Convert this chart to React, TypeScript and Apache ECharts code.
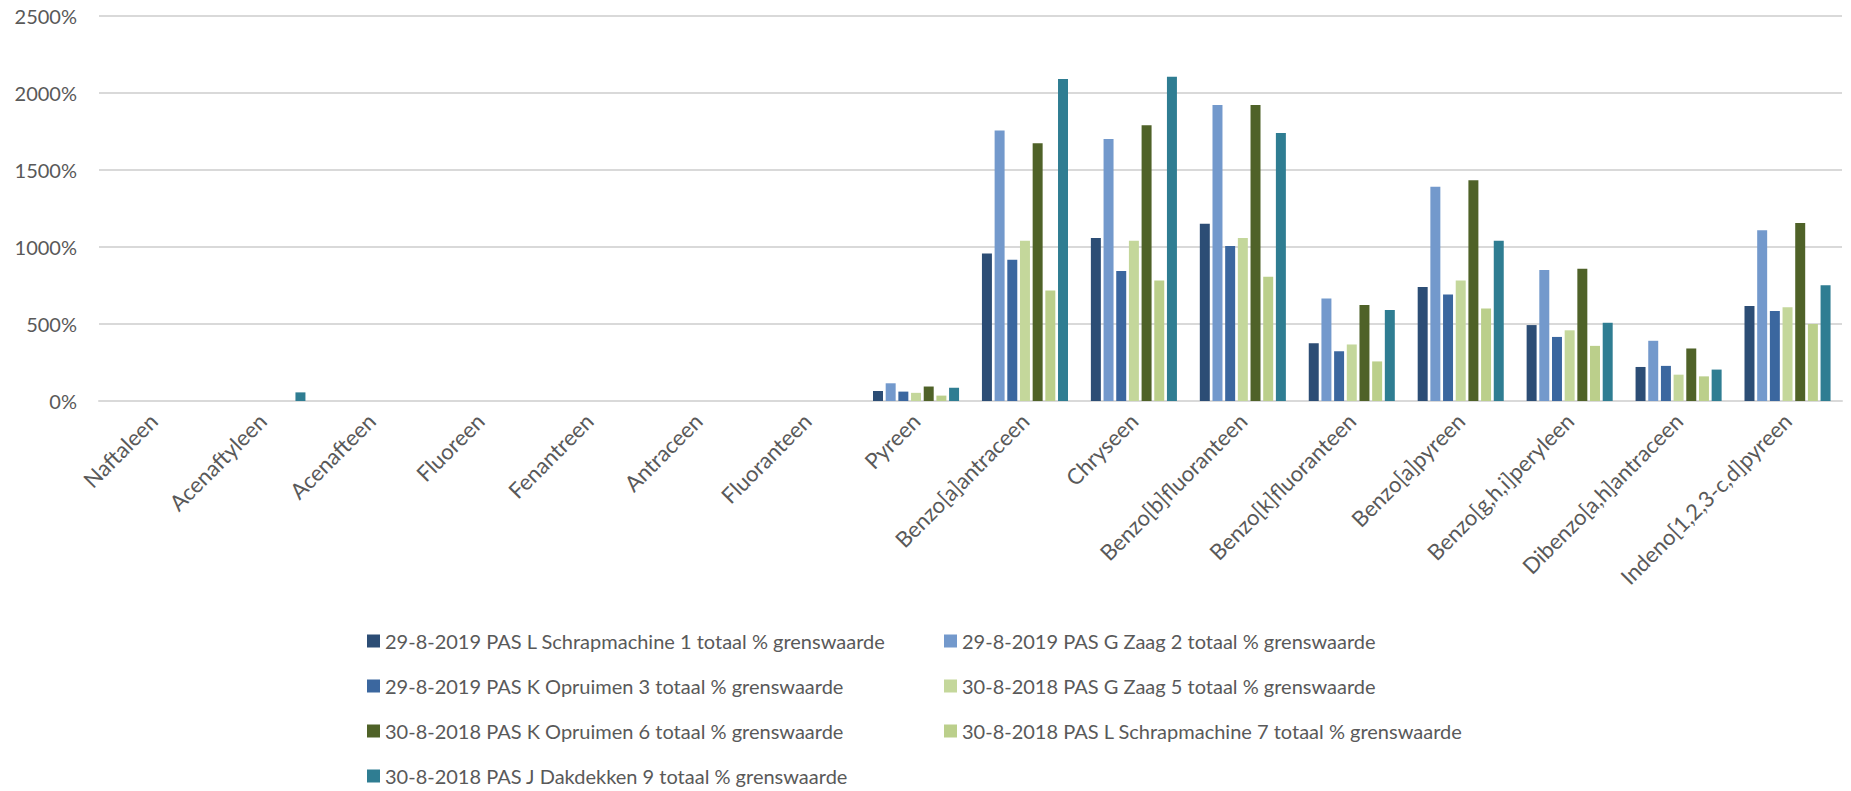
import React, { useEffect, useRef } from "react";
import * as echarts from "echarts";

const categories = [
  "Naftaleen",
  "Acenaftyleen",
  "Acenafteen",
  "Fluoreen",
  "Fenantreen",
  "Antraceen",
  "Fluoranteen",
  "Pyreen",
  "Benzo[a]antraceen",
  "Chryseen",
  "Benzo[b]fluoranteen",
  "Benzo[k]fluoranteen",
  "Benzo[a]pyreen",
  "Benzo[g,h,i]peryleen",
  "Dibenzo[a,h]antraceen",
  "Indeno[1,2,3-c,d]pyreen",
];

const seriesNames = [
  "29-8-2019 PAS L Schrapmachine 1 totaal % grenswaarde",
  "29-8-2019 PAS G Zaag 2 totaal % grenswaarde",
  "29-8-2019 PAS K Opruimen 3 totaal % grenswaarde",
  "30-8-2018 PAS G Zaag 5 totaal % grenswaarde",
  "30-8-2018 PAS K Opruimen 6 totaal % grenswaarde",
  "30-8-2018 PAS L Schrapmachine 7 totaal % grenswaarde",
  "30-8-2018 PAS J Dakdekken 9 totaal % grenswaarde",
];

const colors = ["#2C4D75", "#7399CC", "#3B679F", "#C4D79B", "#4F6228", "#BBCF8B", "#2F7D92"];

const s1 = [0, 0, 0, 0, 0, 0, 0, 65, 958, 1058, 1151, 375, 740, 493, 221, 617];
const s2 = [0, 0, 0, 0, 0, 0, 0, 115, 1757, 1701, 1922, 666, 1392, 850, 391, 1108];
const s3 = [0, 0, 0, 0, 0, 0, 0, 61, 917, 844, 1006, 323, 692, 416, 228, 584];
const s5 = [0, 0, 0, 0, 0, 0, 0, 53, 1041, 1041, 1058, 367, 783, 459, 171, 609];
const s6 = [0, 0, 0, 0, 0, 0, 0, 94, 1673, 1790, 1922, 623, 1433, 859, 341, 1156];
const s7 = [0, 0, 0, 0, 0, 0, 0, 35, 718, 783, 807, 257, 600, 358, 160, 500];
const s9 = [0, 56, 0, 0, 0, 0, 0, 86, 2091, 2106, 1740, 591, 1041, 508, 204, 751];

const seriesData = [s1, s2, s3, s5, s6, s7, s9];

const yTicks = { min: 0, max: 2500, interval: 500 };

const FONT = "Lato, 'Open Sans', sans-serif";
const TEXT = "#595959";
const GRID = "#D9D9D9";

export default function App() {
  const ref = useRef<HTMLDivElement>(null);
  useEffect(() => {
    if (!ref.current) return;
    const chart = echarts.init(ref.current, null, { renderer: "svg" });
    const legendCommon = {
      orient: "vertical",
      itemWidth: 13,
      itemHeight: 13,
      itemGap: 25,
      icon: "rect",
      height: 160,
      padding: 0,
      textStyle: { fontFamily: FONT, fontSize: 20, color: TEXT, lineHeight: 20 },
      selectedMode: false,
    };
    chart.setOption({
      animation: false,
      backgroundColor: "#FFFFFF",
      textStyle: { fontFamily: FONT },
      grid: { left: 99, right: 9, top: 16, bottom: 390, containLabel: false },
      legend: [
        {
          ...legendCommon,
          left: 367,
          top: 631,
          data: [seriesNames[0], seriesNames[2], seriesNames[4], seriesNames[6]],
        },
        {
          ...legendCommon,
          left: 944,
          top: 631,
          data: [seriesNames[1], seriesNames[3], seriesNames[5]],
        },
      ],
      xAxis: {
        type: "category",
        data: categories,
        axisLine: { show: true, lineStyle: { color: GRID, width: 2 } },
        axisTick: { show: false },
        axisLabel: {
          rotate: 45,
          interval: 0,
          margin: 16,
          fontFamily: FONT,
          fontSize: 22,
          color: TEXT,
        },
      },
      yAxis: {
        type: "value",
        min: yTicks.min,
        max: yTicks.max,
        interval: yTicks.interval,
        axisLine: { show: false },
        axisTick: { show: false },
        splitLine: { lineStyle: { color: GRID, width: 2 } },
        axisLabel: {
          formatter: (v: number) => `${v}%`,
          margin: 22,
          fontFamily: FONT,
          fontSize: 20,
          color: TEXT,
        },
      },
      series: seriesNames.map((name, i) => ({
        name,
        type: "bar",
        data: seriesData[i],
        barCategoryGap: "21%",
        barGap: "27%",
        itemStyle: { color: colors[i] },
      })),
    });
    return () => chart.dispose();
  }, []);
  return (
    <div
      ref={ref}
      style={{ position: "fixed", left: 0, top: 0, width: 1851, height: 791, background: "#fff" }}
    />
  );
}
